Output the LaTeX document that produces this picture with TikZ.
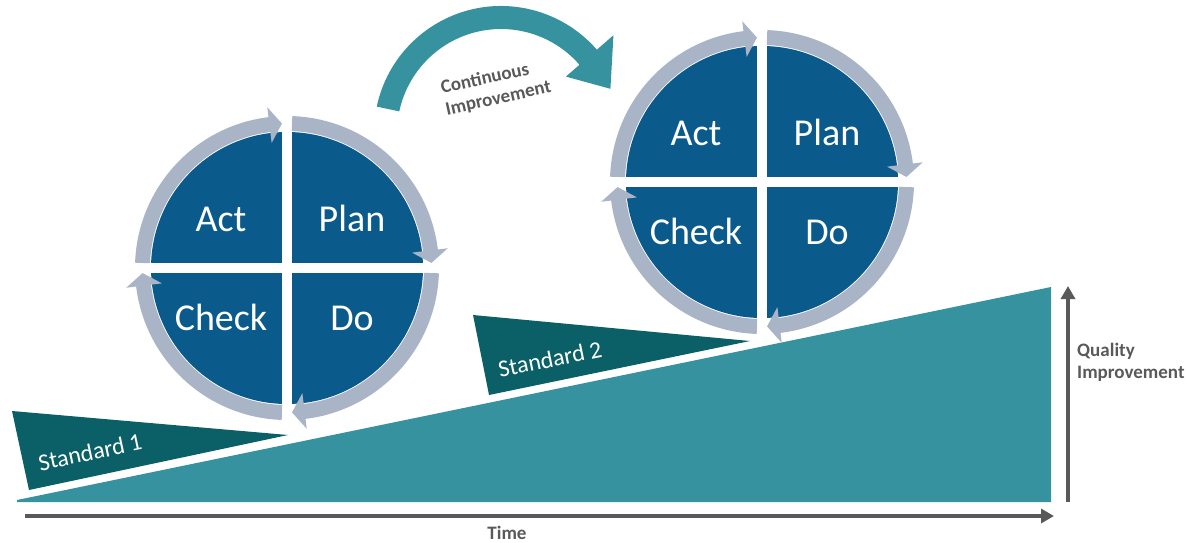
\documentclass[tikz,border=0pt]{standalone}
\usepackage{fontspec}
\setmainfont{Carlito}
\usetikzlibrary{arrows.meta}
\definecolor{pdcablue}{HTML}{0B5A8C}
\definecolor{ringgray}{HTML}{A9B5C7}
\definecolor{tealmain}{HTML}{35929E}
\definecolor{tealdark}{HTML}{0A6066}
\definecolor{labelgray}{HTML}{595959}
\tikzset{
  quadtext/.style={text=white, inner sep=0pt, anchor=base, font=\fontsize{38}{42}\selectfont},
  stdtext/.style={text=white, inner sep=0pt, font=\fontsize{24}{28}\selectfont},
  graylabel/.style={text=labelgray, inner sep=0pt, font=\bfseries\fontsize{19}{22}\selectfont},
  axisarrow/.style={draw=labelgray, line width=4pt, -{Triangle[length=13pt,width=14pt]}},
}
\newcommand{\pdcawheel}[3]{%
  \begin{scope}[shift={(#1,#2)}]
    \fill[pdcablue] (0,0) circle[radius=136];
    \fill[white] (-153,-5) rectangle (153,5);
    \fill[white] (-5,-153) rectangle (5,153);
    \foreach \a in {0,90,180,270} {
      \fill[ringgray] (\a+2:137) arc[start angle=\a+2, end angle=\a+83, radius=137]
        -- (\a+83:126) -- (\a+88:144.5) -- (\a+83:162) -- (\a+83:152)
        arc[start angle=\a+83, end angle=\a+2, radius=152] -- cycle;
    }
    \node[quadtext] (#3act) at (-66,-37) {Act};
    \node[quadtext] (#3plan) at (65,-37) {Plan};
    \node[quadtext] (#3check) at (-66,62) {Check};
    \node[quadtext] (#3do) at (65,62) {Do};
  \end{scope}}
\begin{document}
\begin{tikzpicture}[x=1pt, y=-1pt]
  \useasboundingbox (0,0) rectangle (1186,542);
  % main ramp
  \fill[tealmain] (17,500) -- (1051,287) -- (1051,502) -- (17,502) -- cycle;
  % standards
  \fill[tealdark] (12,411) -- (288,435) -- (29,490) -- cycle;
  \node[stdtext, rotate=12] (std1) at (90,452) {Standard 1};
  \fill[tealdark] (473,315) -- (750,341) -- (489,395) -- cycle;
  \node[stdtext, rotate=11.5] (std2) at (550,359) {Standard 2};
  % wheels
  \pdcawheel{287}{268}{w1}
  \pdcawheel{762}{182}{w2}
  % continuous improvement arrow
  \begin{scope}[shift={(501,133)}]
    \fill[tealmain] (192:127) arc[start angle=192, end angle=319, radius=127]
      -- (319:149) -- (338:118) -- (319:86) -- (319:104)
      arc[start angle=319, end angle=192, radius=104] -- cycle;
  \end{scope}
  \node[graylabel, rotate=12.5, align=left] (ci) at (496,88) {Continuous\\Improvement};
  % axes
  \coordinate (t0) at (25,516);
  \coordinate (t1) at (1054,516);
  \coordinate (q0) at (1068,502);
  \coordinate (q1) at (1068,286);
  \draw[axisarrow] (t0) -- (t1);
  \draw[axisarrow] (q0) -- (q1);
  \node[graylabel, anchor=base] (time) at (507,539) {Time};
  \node[graylabel, anchor=west, align=left] (qi) at (1077,362) {Quality\\Improvement};
\end{tikzpicture}
\end{document}
